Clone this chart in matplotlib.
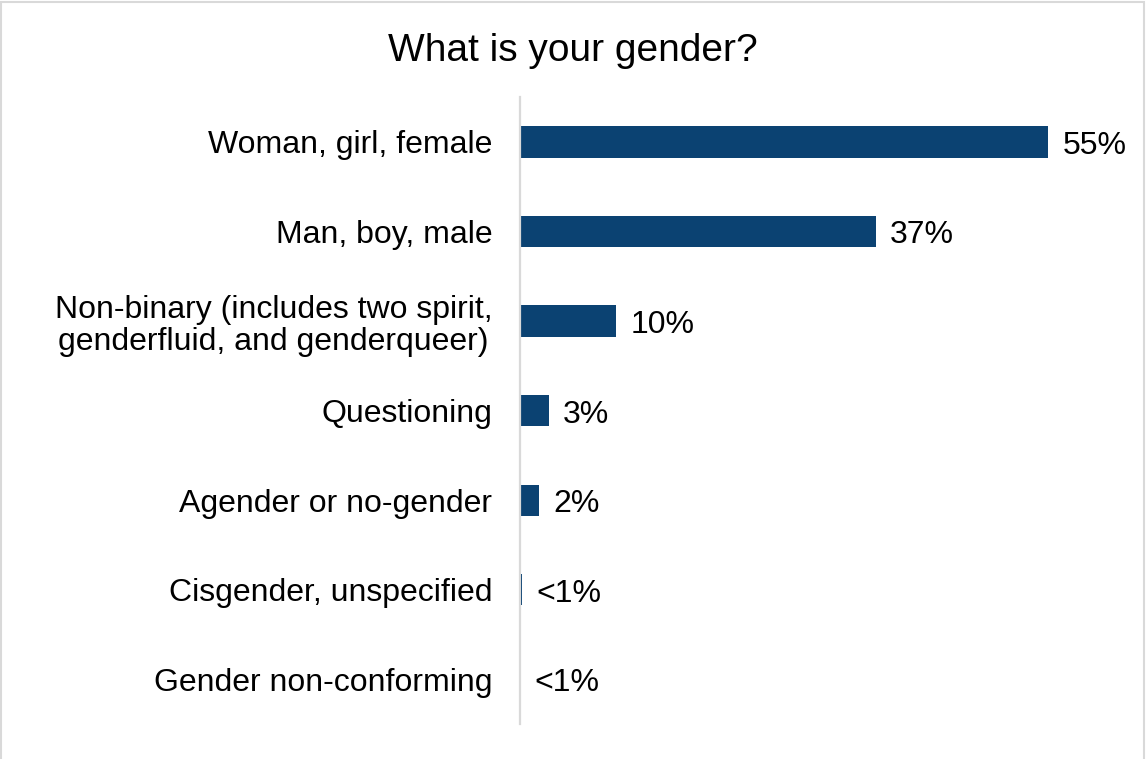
import matplotlib
matplotlib.use("Agg")
import matplotlib.pyplot as plt
from matplotlib.patches import Rectangle

categories = [
    "Woman, girl, female",
    "Man, boy, male",
    "Non-binary (includes two spirit,\ngenderfluid, and genderqueer)",
    "Questioning",
    "Agender or no-gender",
    "Cisgender, unspecified",
    "Gender non-conforming",
]
values = [55, 37, 10, 3, 2, 0.2, 0.0]
value_labels = ["55%", "37%", "10%", "3%", "2%", "<1%", "<1%"]

BAR_COLOR = "#0B4272"
GRID_GRAY = "#D9D9D9"

plt.rcParams["font.family"] = ["Liberation Sans", "DejaVu Sans"]

fig = plt.figure(figsize=(11.46, 7.59), dpi=100)
ax = fig.add_axes([0.4538, 0.046, 0.503, 0.826])

y = list(range(len(categories)))
ax.barh(y, values, height=0.35, color=BAR_COLOR)

for yi, v, lab in zip(y, values, value_labels):
    ax.annotate(lab, (v, yi), xytext=(14, -4), textcoords="offset pixels",
                ha="left", va="center", fontsize=23, color="#000000")

ax.set_xlim(0, 60)
ax.set_ylim(len(categories) - 0.5, -0.5)
ax.set_yticks(y)
ax.set_yticklabels(categories, fontsize=23, multialignment="center",
                   linespacing=1.1)
ax.tick_params(axis="y", length=0, pad=20)
ax.set_xticks([])

for side in ["top", "right", "bottom"]:
    ax.spines[side].set_visible(False)
ax.spines["left"].set_color(GRID_GRAY)
ax.spines["left"].set_linewidth(1.6)

fig.text(0.5, 0.933, "What is your gender?", ha="center", va="center",
         fontsize=28)

# thin light border around the chart area
fig.patches.append(Rectangle((0.001, -0.01), 0.997, 1.007,
                             transform=fig.transFigure, fill=False,
                             edgecolor=GRID_GRAY, linewidth=1.5))

fig.savefig("out.png", dpi=100)
